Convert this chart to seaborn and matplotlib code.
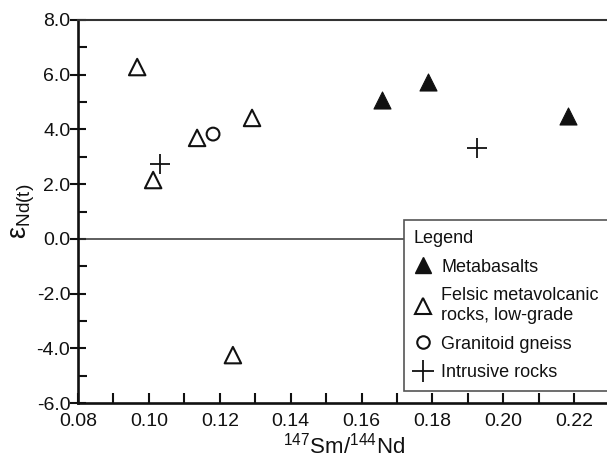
import matplotlib
matplotlib.use("Agg")
import matplotlib.pyplot as plt
from matplotlib.lines import Line2D
from matplotlib.ticker import MultipleLocator, FormatStrFormatter
import seaborn as sns
import pandas as pd

sns.set_style("ticks")
plt.rcParams["font.family"] = ["Liberation Sans", "DejaVu Sans"]
plt.rcParams["mathtext.fontset"] = "custom"
plt.rcParams["mathtext.rm"] = "Liberation Sans"
plt.rcParams["mathtext.it"] = "Liberation Sans"

# 147Sm/144Nd ratio and epsilon Nd(t) per rock group
metabasalt_x = [0.1658, 0.1788, 0.2183]
metabasalt_y = [5.07, 5.73, 4.49]
felsic_x = [0.0967, 0.1012, 0.1136, 0.1291, 0.1237]
felsic_y = [6.28, 2.15, 3.69, 4.42, -4.25]
granitoid_x = [0.1181]
granitoid_y = [3.83]
intrusive_x = [0.1031, 0.1926]
intrusive_y = [2.73, 3.32]

labels = ["Metabasalts", "Felsic metavolcanic\nrocks, low-grade",
          "Granitoid gneiss", "Intrusive rocks"]

INK = "#111111"

fig = plt.figure(figsize=(6.07, 4.57), dpi=100)
ax = fig.add_axes([78 / 607, 1 - 403 / 457, 531.7 / 607, 383 / 457])

df_mb = pd.DataFrame({"x": metabasalt_x, "y": metabasalt_y})
df_fe = pd.DataFrame({"x": felsic_x, "y": felsic_y})
df_gr = pd.DataFrame({"x": granitoid_x, "y": granitoid_y})
df_in = pd.DataFrame({"x": intrusive_x, "y": intrusive_y})

sns.scatterplot(data=df_mb, x="x", y="y", marker="^", s=150, color=INK,
                edgecolor=INK, linewidth=0.8, ax=ax, zorder=3)
sns.scatterplot(data=df_fe, x="x", y="y", marker="^", s=140, facecolors="none",
                edgecolor=INK, linewidth=1.5, ax=ax, zorder=3)
sns.scatterplot(data=df_gr, x="x", y="y", marker="o", s=85, facecolors="none",
                edgecolor=INK, linewidth=1.5, ax=ax, zorder=3)
sns.scatterplot(data=df_in, x="x", y="y", marker="+", s=220, color=INK,
                linewidth=1.3, ax=ax, zorder=3)

ax.axhline(0, color="#333333", linewidth=1.1, zorder=1)

ax.set_xlim(0.08, 0.23)
ax.set_ylim(-6, 8)
ax.xaxis.set_major_locator(MultipleLocator(0.02))
ax.xaxis.set_minor_locator(MultipleLocator(0.01))
ax.yaxis.set_major_locator(MultipleLocator(2))
ax.yaxis.set_minor_locator(MultipleLocator(1))
ax.xaxis.set_major_formatter(FormatStrFormatter("%.2f"))
ax.yaxis.set_major_formatter(FormatStrFormatter("%.1f"))

ax.tick_params(axis="x", which="both", direction="in", length=7, width=1.5,
               labelsize=14, pad=7.5, color=INK)
ax.tick_params(axis="y", which="major", direction="inout", length=11, width=1.5,
               labelsize=14, pad=0, color=INK)
ax.tick_params(axis="y", which="minor", direction="in", length=6.5, width=1.5,
               color=INK)
ax.tick_params(axis="both", labelcolor=INK)

for side in ["left", "bottom"]:
    ax.spines[side].set_linewidth(1.9)
    ax.spines[side].set_color(INK)
ax.spines["top"].set_linewidth(1.5)
ax.spines["top"].set_color("#333333")
ax.spines["right"].set_linewidth(1.5)

ax.set_xlabel(r"$\mathregular{^{147}}$Sm/$\mathregular{^{144}}$Nd",
              fontsize=16, color=INK, labelpad=1.5)
ax.set_ylabel(r"$\mathregular{\varepsilon_{Nd(t)}}$", fontsize=19.5,
              color=INK, labelpad=0)

handles = [
    Line2D([], [], linestyle="none", marker="^", markersize=12,
           markerfacecolor=INK, markeredgecolor=INK),
    Line2D([], [], linestyle="none", marker="^", markersize=11,
           markerfacecolor="none", markeredgecolor=INK, markeredgewidth=1.5),
    Line2D([], [], linestyle="none", marker="o", markersize=9,
           markerfacecolor="none", markeredgecolor=INK, markeredgewidth=1.5),
    Line2D([], [], linestyle="none", marker="+", markersize=16,
           color=INK, markeredgewidth=1.3),
]
leg = ax.legend(handles, labels, title="Legend", loc="upper left",
                bbox_to_anchor=(404 / 607, 1 - 220 / 457),
                bbox_transform=fig.transFigure, fontsize=13, title_fontsize=13,
                frameon=True, fancybox=False, edgecolor="#555555",
                framealpha=1, handlelength=1.0, handletextpad=0.5,
                labelspacing=0.65, borderpad=0.55, borderaxespad=0)
leg._legend_box.align = "left"
leg.get_frame().set_linewidth(1.2)
for t in leg.get_texts():
    t.set_color(INK)
leg.get_title().set_color(INK)

fig.savefig("out.png", dpi=100)
